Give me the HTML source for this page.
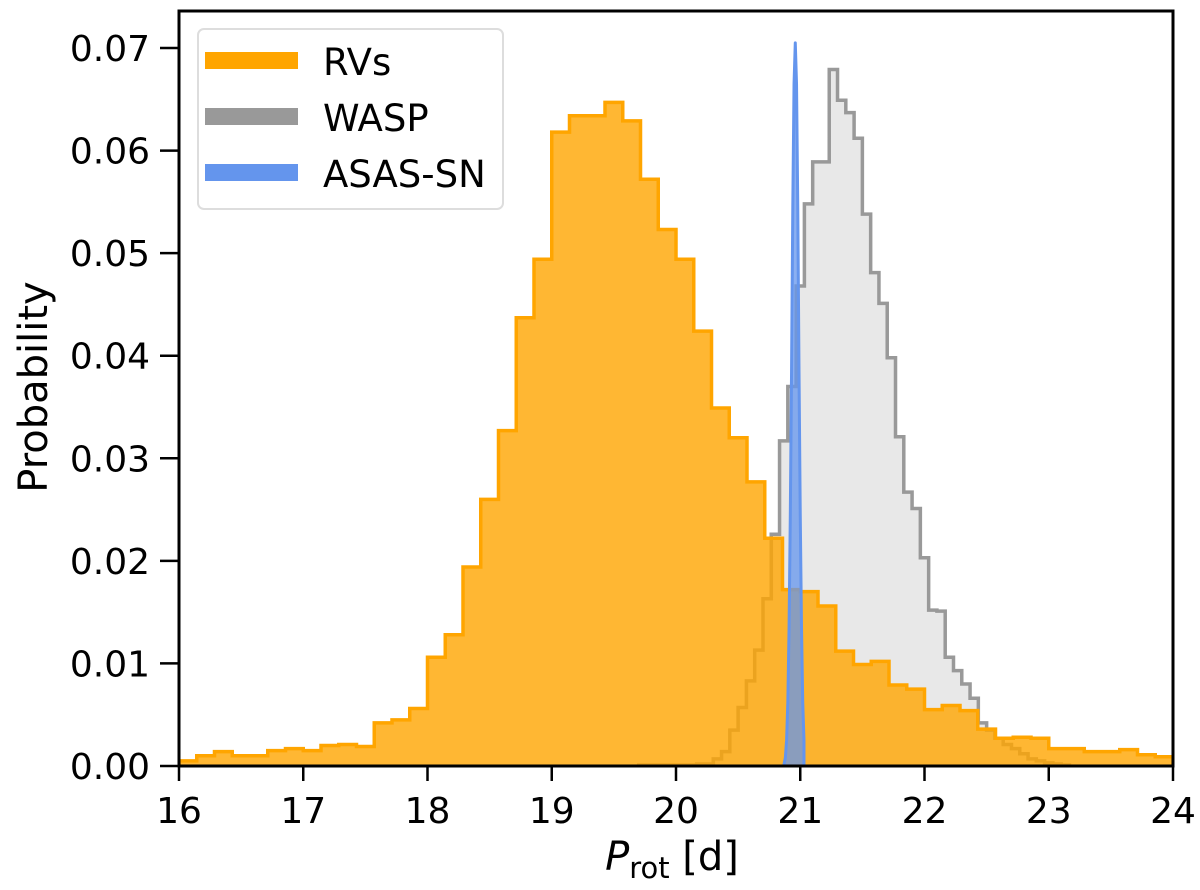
<!DOCTYPE html>
<html><head><meta charset="utf-8"><style>
body{margin:0;background:#fff;}
svg text{font-family:"DejaVu Sans","Liberation Sans",sans-serif;fill:#000;}
</style></head><body>
<svg id="chart" width="1200" height="885" xmlns="http://www.w3.org/2000/svg">
<g id="plot"></g>
</svg>
<script>
const rvStart = 16, rvWidth = 1/7;
const rvValues = [0.0005,0.001,0.0014,0.001,0.001,0.0015,0.0017,0.0015,0.002,0.0021,0.0019,0.0042,0.0045,0.0056,
0.0106,0.0128,0.0194,0.026,0.0327,0.0437,0.0494,0.0618,0.0634,0.0634,0.0647,0.0629,0.0572,0.0523,
0.0494,0.0424,0.0349,0.032,0.0277,0.0222,0.0172,0.017,0.0156,0.0112,0.0099,0.0102,0.0079,0.0075,
0.0055,0.0059,0.0054,0.0036,0.0027,0.0028,0.0027,0.0017,0.0017,0.0014,0.0014,0.0016,0.0011,0.0009];
const waspStart = 19.7, waspWidth = 1/15;
const waspValues = [0.0001,0.0001,0.0001,0.0001,0.0001,0.0001,0.0001,0.0002,0.0002,0.0007,0.0014,0.0035,0.0057,0.0083,0.0113,0.0163,0.0226,0.0317,0.037,0.0468,0.0548,0.0589,0.0589,0.0679,0.0649,0.0637,0.0612,0.0538,0.0481,0.0451,0.0398,0.0321,0.0267,0.0251,0.0203,0.0152,0.0151,0.0106,0.0093,0.008,0.0066,0.0042,0.0035,0.0027,0.0021,0.0017,0.0012,0.0007,0.0005,0.0003,0.0002,0.0001];
const asasX = [20.87,20.88,20.89,20.9,20.91,20.92,20.93,20.94,20.95,20.96,20.97,20.98,20.99,21.0,21.01,21.02,21.03];
const asasValues = [0.0002,0.0008,0.0025,0.0062,0.0135,0.0245,0.0385,0.0545,0.0665,0.0705,0.0665,0.0545,0.0385,0.0245,0.0135,0.0062,0.0025];
const xTicks = [16,17,18,19,20,21,22,23,24];
const yTicks = [0,0.01,0.02,0.03,0.04,0.05,0.06,0.07];
const yTickLabels = ["0.00","0.01","0.02","0.03","0.04","0.05","0.06","0.07"];
const legendLabels = ["RVs","WASP","ASAS-SN"];

const L=179,R=1173,T=11,B=766;
const xMin=16,xMax=24;
const X=v=>L+(v-xMin)/(xMax-xMin)*(R-L);
const Y=v=>B-v/0.07*(B-48);
const NS="http://www.w3.org/2000/svg";
const plot=document.getElementById('plot');
function mk(tag,attrs,parent){const e=document.createElementNS(NS,tag);for(const k in attrs)e.setAttribute(k,attrs[k]);(parent||plot).appendChild(e);return e;}
function stepPath(start,w,vals){
  let d='M'+X(start)+','+Y(0);
  vals.forEach((v,i)=>{d+=' L'+X(start+i*w)+','+Y(v)+' L'+X(start+(i+1)*w)+','+Y(v);});
  d+=' L'+X(start+vals.length*w)+','+Y(0);
  return d;
}
const clip=mk('clipPath',{id:'clip'});
mk('rect',{x:L,y:T,width:R-L,height:B-T},clip);
let g=mk('path',{d:stepPath(waspStart,waspWidth,waspValues),fill:'#e8e8e8',stroke:'#999',"stroke-width":3.5,"clip-path":'url(#clip)'});


let o=mk('path',{d:stepPath(rvStart,rvWidth,rvValues),fill:'rgba(255,165,0,0.8)',stroke:'#ffa500',"stroke-width":3.5,"clip-path":'url(#clip)'});


let d='M'+X(asasX[0])+','+Y(0);
asasX.forEach((x,i)=>{d+=' L'+X(x)+','+Y(asasValues[i]);});
d+=' L'+X(asasX[asasX.length-1])+','+Y(0)+' Z';
let b=mk('path',{d:d,fill:'rgba(100,149,237,0.75)',stroke:'#6495ed',"stroke-width":3,"stroke-linejoin":'round'});


let f=mk('rect',{x:L,y:T,width:R-L,height:B-T,fill:'none',stroke:'#000',"stroke-width":3});


xTicks.forEach(t=>{
  let l=mk('line',{x1:X(t),x2:X(t),y1:B,y2:B+15,stroke:'#000',"stroke-width":2.5});
  
  
  let tx=mk('text',{x:X(t),y:823,"text-anchor":'middle',"font-size":36});
  tx.textContent=t;
  
  
});
yTicks.forEach((t,i)=>{
  let l=mk('line',{x1:L-19,x2:L,y1:Y(t),y2:Y(t),stroke:'#000',"stroke-width":2.5});
  
  
  let tx=mk('text',{x:150,y:Y(t)+13,"text-anchor":'end',"font-size":36});
  tx.textContent=yTickLabels[i];
  
  
});
let xt=mk('text',{x:672,y:870,"text-anchor":'middle',"font-size":40});
xt.innerHTML='<tspan font-style="italic">P</tspan><tspan font-size="29" dy="8">rot</tspan><tspan dy="-8"> [d]</tspan>';


let yt=mk('text',{x:0,y:0,"text-anchor":'middle',"font-size":40,transform:'translate(47,387) rotate(-90)'});
yt.textContent='Probability';


let lg=mk('g',{});


mk('rect',{x:198,y:29,width:305,height:180,rx:6,fill:'rgba(255,255,255,0.8)',stroke:'#ddd',"stroke-width":2},lg);
const legendColors=['#ffa500','#999999','#6495ed'];
legendLabels.forEach((s,i)=>{
  const y=60+i*56;
  let e=mk('g',{},lg);
  
  
  mk('rect',{x:205,y:y-8,width:93,height:17,fill:legendColors[i]},e);
  let tx=mk('text',{x:323,y:y+15,"font-size":37},e);
  tx.textContent=s;
});
</script>
</body></html>
